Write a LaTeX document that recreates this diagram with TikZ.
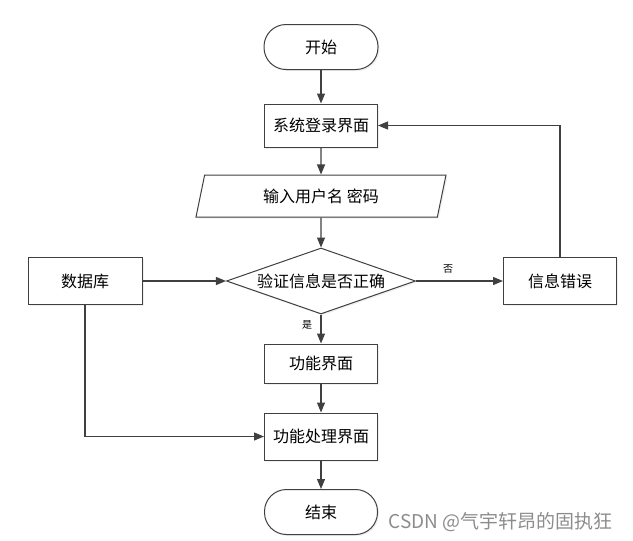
\documentclass[tikz,border=0pt]{standalone}
\usepackage{fontspec}
\setmainfont{Noto Sans CJK SC}
\usepackage{tikz}
\usetikzlibrary{shapes,arrows.meta,positioning,shadows}
\definecolor{linegray}{HTML}{404040}

\begin{document}
\begin{tikzpicture}[
    x=1pt, y=-1pt,
    on grid,
    font=\fontsize{16}{19}\selectfont,
    base/.style={draw=linegray, line width=1pt, fill=white, inner sep=0pt, drop shadow={shadow xshift=1.5pt, shadow yshift=-1.5pt, fill=black!12}},
    block/.style={base, rectangle, minimum width=113pt, minimum height=45pt},
    term/.style={base, rectangle, rounded corners=22pt, minimum width=114pt, minimum height=45pt},
    io/.style={base, trapezium, trapezium left angle=60, trapezium right angle=120, trapezium stretches body, minimum width=250pt, minimum height=42pt},
    decision/.style={base, diamond, aspect=2.86, minimum width=189pt, minimum height=66pt},
    arrow/.style={draw=linegray, line width=1.2pt, -{Triangle[length=10pt,width=8pt]}},
    tag/.style={font=\fontsize{10}{12}\selectfont}
]
    \useasboundingbox (0,0) rectangle (633,541);

    \node[term] (start) at (321,47) {开始};
    \node[block, below=78.5pt of start, minimum height=43pt] (login) {系统登录界面};
    \node[io, below=70.5pt of login] (input) {输入用户名 密码};
    \node[decision, below=85pt of input] (check) {验证信息是否正确};
    \node[block, left=236pt of check, minimum width=114pt, minimum height=47pt] (db) {数据库};
    \node[block, right=239pt of check, minimum height=47pt] (err) {信息错误};
    \node[block, below=82.5pt of check, minimum height=39pt] (func) {功能界面};
    \node[block, below=73pt of func, minimum height=47pt] (proc) {功能处理界面};
    \node[term, below=75.5pt of proc, minimum width=113pt] (end) {结束};

    \node[anchor=west, text=black!45, font=\fontsize{19}{22}\selectfont] (mark) at (385,522) {CSDN @气宇轩昂的固执狂};

    \draw[arrow] (start) -- (login);
    \draw[arrow] (login) -- (input);
    \draw[arrow] (input) -- (check);
    \draw[arrow] (db) -- (check);
    \draw[arrow] (check) -- node[tag, above, pos=0.37, yshift=4pt] {否} (err);
    \draw[arrow] (err) |- (login);
    \draw[arrow] (check) -- node[tag, left, pos=0.35, xshift=-5pt] {是} (func);
    \draw[arrow] (func) -- (proc);
    \draw[arrow] (db) |- (proc);
    \draw[arrow] (proc) -- (end);
\end{tikzpicture}
\end{document}
